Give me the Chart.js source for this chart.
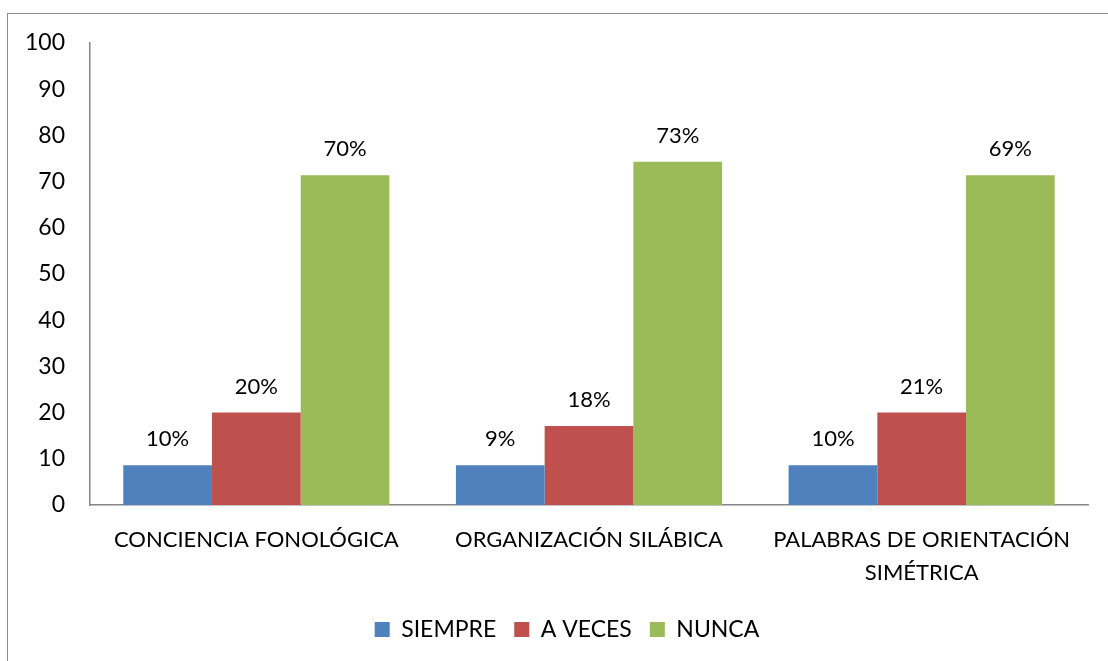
<!DOCTYPE html>
<html lang="es">
<head>
<meta charset="UTF-8">
<title>Resultados</title>
<script src="https://cdn.jsdelivr.net/npm/chart.js@4.4.1/dist/chart.umd.min.js"></script>
<style>
  html, body { margin: 0; padding: 0; background: #fff; }
  #wrap { position: relative; width: 1108px; height: 661px; overflow: hidden; }
  #frame { position: absolute; left: 7px; top: 13px; width: 1110px; height: 660px;
           border: 1px solid #8c8c8c; box-sizing: border-box; }
  canvas { position: absolute; left: 0; top: 0; }
</style>
</head>
<body>
<div id="wrap">
  <div id="frame"></div>
  <canvas id="myChart" width="1108" height="661"></canvas>
</div>
<script>
// datos
var categorias = ['CONCIENCIA FONOLÓGICA', 'ORGANIZACIÓN SILÁBICA', ['PALABRAS DE ORIENTACIÓN', 'SIMÉTRICA']];
var siempre = [8.6, 8.6, 8.6];
var aVeces = [20, 17.1, 20];
var nunca = [71.4, 74.3, 71.4];
// etiquetas que muestra cada barra
var etqSiempre = ['10%', '9%', '10%'];
var etqAVeces = ['20%', '18%', '21%'];
var etqNunca = ['70%', '73%', '69%'];
var yTicks = [0, 10, 20, 30, 40, 50, 60, 70, 80, 90, 100];

var fuente = 'Lato, "Open Sans", sans-serif';
Chart.defaults.font.family = fuente;
Chart.defaults.font.size = 22;
Chart.defaults.color = '#000';

// dibuja los porcentajes encima de cada barra
var etiquetasPlugin = {
    id: 'etiquetas',
    afterLayout: function (chart) {
        // la leyenda del original está algo corrida a la derecha
        chart.legend.left += 19;
        chart.legend.right += 19;
    },
    afterDatasetsDraw: function (chart) {
        var ctx = chart.ctx;
        var listas = [etqSiempre, etqAVeces, etqNunca];
        ctx.save();
        ctx.font = '22px ' + fuente;
        ctx.fillStyle = '#000';
        ctx.textAlign = 'center';
        ctx.textBaseline = 'alphabetic';
        chart.data.datasets.forEach(function (ds, i) {
            chart.getDatasetMeta(i).data.forEach(function (bar, j) {
                ctx.fillText(listas[i][j], bar.x, bar.y - 19);
            });
        });
        ctx.restore();
    }
};

const ctx = document.getElementById('myChart').getContext('2d');
const myChart = new Chart(ctx, {
    type: 'bar',
    data: {
        labels: categorias,
        datasets: [{
            label: 'SIEMPRE',
            data: siempre,
            backgroundColor: '#4F81BD'
        }, {
            label: 'A VECES',
            data: aVeces,
            backgroundColor: '#C0504D'
        }, {
            label: 'NUNCA',
            data: nunca,
            backgroundColor: '#9BBB59'
        }]
    },
    options: {
        responsive: false,
        animation: false,
        layout: { padding: { left: 8, right: 20, top: 43, bottom: 10 } },
        datasets: { bar: { categoryPercentage: 0.8, barPercentage: 1.0 } },
        plugins: {
            tooltip: { enabled: false },
            legend: {
                position: 'bottom',
                labels: {
                    boxWidth: 15,
                    boxHeight: 15,
                    padding: 18,
                    font: { size: 23 }
                }
            }
        },
        scales: {
            x: {
                afterFit: function (scale) { scale.height -= 7; },
                grid: { display: false, drawTicks: false },
                border: { display: true, color: '#868686', width: 1.5 },
                ticks: { padding: 18, font: { size: 22, lineHeight: 1.5 }, maxRotation: 0, autoSkip: false }
            },
            y: {
                min: 0,
                max: 100,
                afterFit: function (scale) { scale.width = 82; },
                afterBuildTicks: function (scale) {
                    scale.ticks = yTicks.map(function (v) { return { value: v }; });
                },
                grid: { display: false, drawTicks: false },
                border: { display: true, color: '#868686', width: 1.5 },
                ticks: { padding: 25, font: { size: 23 } }
            }
        }
    },
    plugins: [etiquetasPlugin]
});
</script>
</body>
</html>
